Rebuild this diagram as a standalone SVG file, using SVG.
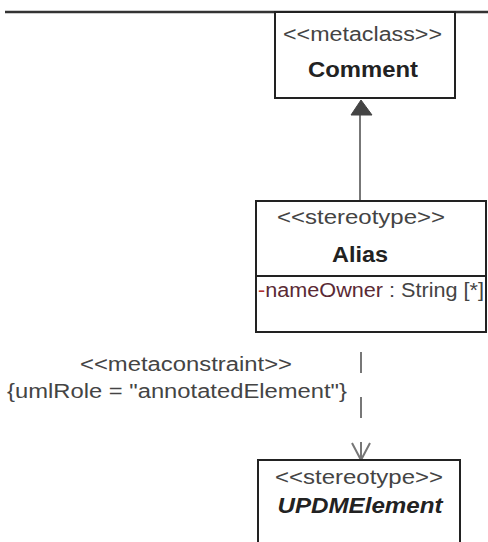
<svg xmlns="http://www.w3.org/2000/svg" width="488" height="542" viewBox="0 0 488 542">
<style>
.box{fill:#fff;stroke:#222;stroke-width:2}
.st{font-family:"Liberation Sans",Arial,sans-serif;font-size:19.5px;fill:#444;text-anchor:middle}
.nm{font-family:"Liberation Sans",Arial,sans-serif;font-size:22px;font-weight:bold;fill:#222;text-anchor:middle}
.lbl{font-family:"Liberation Sans",Arial,sans-serif;font-size:19.5px;fill:#444}
.con{stroke:#777;stroke-width:2;fill:none}
</style>
<rect width="488" height="542" fill="#fff"/>
<line x1="5" y1="12" x2="488" y2="12" stroke="#333" stroke-width="2.5"/>
<g id="connectors">
  <line class="con" x1="360" y1="114" x2="360" y2="201"/>
  <polygon points="361,100 351,115 372,115" fill="#444" stroke="#444" stroke-width="1"/>
  <line class="con" x1="361" y1="352" x2="361" y2="460" stroke-dasharray="21 24"/>
  <polyline class="con" points="352,443 361,460 370,443"/>
  <text class="lbl" x="186" y="371" text-anchor="middle" textLength="212" lengthAdjust="spacingAndGlyphs">&lt;&lt;metaconstraint&gt;&gt;</text>
  <text class="lbl" x="7" y="398" textLength="340" lengthAdjust="spacingAndGlyphs">{umlRole = "annotatedElement"}</text>
</g>
<g id="Comment">
  <rect class="box" x="275" y="12" width="180" height="86"/>
  <text class="st" x="362.5" y="41" textLength="159" lengthAdjust="spacingAndGlyphs">&lt;&lt;metaclass&gt;&gt;</text>
  <text class="nm" x="363" y="77" textLength="110" lengthAdjust="spacingAndGlyphs">Comment</text>
</g>
<g id="Alias">
  <rect class="box" x="256" y="201" width="230" height="131"/>
  <line x1="256" y1="276" x2="486" y2="276" stroke="#222" stroke-width="2"/>
  <text class="st" x="361" y="224" textLength="168" lengthAdjust="spacingAndGlyphs">&lt;&lt;stereotype&gt;&gt;</text>
  <text class="nm" x="360" y="262" font-size="23" textLength="56" lengthAdjust="spacingAndGlyphs">Alias</text>
  <text class="lbl" x="258" y="297" textLength="226" lengthAdjust="spacingAndGlyphs"><tspan fill="#b03030">-</tspan><tspan fill="#5a2a35">nameOwner</tspan> : String [*]</text>
</g>
<g id="UPDMElement">
  <rect class="box" x="258" y="460" width="202" height="90"/>
  <text class="st" x="359" y="484" textLength="168" lengthAdjust="spacingAndGlyphs">&lt;&lt;stereotype&gt;&gt;</text>
  <text class="nm" x="360" y="513" font-style="italic" textLength="165" lengthAdjust="spacingAndGlyphs">UPDMElement</text>
</g>
</svg>
